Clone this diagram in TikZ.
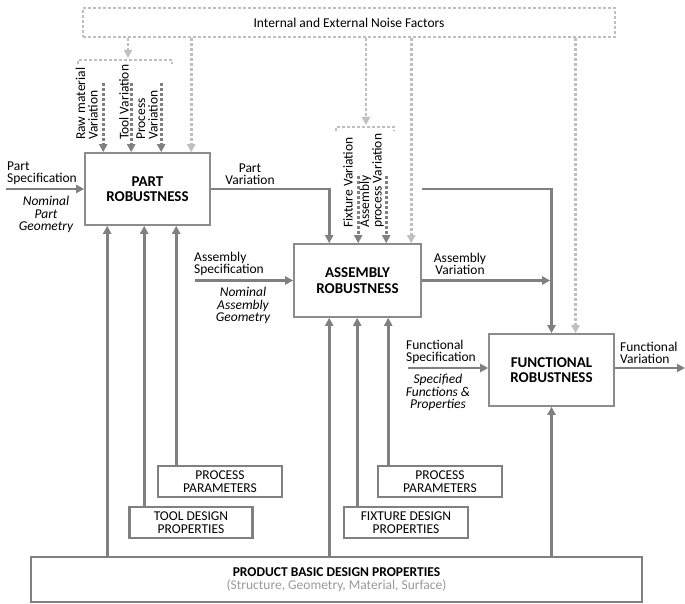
\documentclass[tikz,border=0pt]{standalone}
\usepackage{fontspec}
\setmainfont{Carlito}
\usetikzlibrary{arrows.meta}

\definecolor{flowgray}{HTML}{808080}
\definecolor{boxgray}{HTML}{8C8C8C}
\definecolor{noisegray}{HTML}{BFBFBF}
\definecolor{subgray}{HTML}{999999}

\tikzset{
  robust/.style={draw=boxgray, line width=1.6pt, fill=white, minimum width=125pt,
    minimum height=72pt, align=center, inner sep=0pt,
    font=\fontsize{15}{15.5}\selectfont\bfseries},
  propbox/.style={draw=flowgray, line width=2.6pt, minimum width=124pt,
    minimum height=31pt, align=center, inner sep=0pt,
    font=\fontsize{13.5}{12.5}\selectfont},
  flow/.style={draw=flowgray, line width=2.6pt, -{Triangle[length=8pt,width=8pt]}},
  varflow/.style={flow, dash pattern=on 2.6pt off 2.4pt},
  noiseline/.style={draw=noisegray, line width=2.6pt, dash pattern=on 2.6pt off 2.4pt},
  noiseflow/.style={noiseline, -{Triangle[length=8pt,width=8pt]}},
  lbl/.style={font=\fontsize{13.5}{12.5}\selectfont, inner sep=1pt, align=left},
  nominal/.style={lbl, font=\fontsize{13.5}{12.5}\selectfont\itshape, align=center},
  vlbl/.style={lbl, rotate=90, anchor=south west}
}

\begin{document}
\begin{tikzpicture}[x=1pt, y=-1pt]
  \useasboundingbox (0,0) rectangle (685,604);

  % the noise factors
  \node[noiseline, minimum width=532pt, minimum height=29pt, inner sep=0pt,
        font=\fontsize{13.5}{13}\selectfont] (noise) at (349,22.5)
        {Internal and External Noise Factors};

  % the three robustness boxes
  \node[robust] (part) at (147.5,189) {PART\\ROBUSTNESS};
  \node[robust, minimum width=127pt, minimum height=73pt] (asm) at (357.5,280.5)
        {ASSEMBLY\\ROBUSTNESS};
  \node[robust] (func) at (551.5,370) {FUNCTIONAL\\ROBUSTNESS};

  % the property boxes below
  \node[propbox] (pp1) at (220,481.5) {PROCESS\\PARAMETERS};
  \node[propbox, minimum width=123pt] (tool) at (191,522.5) {TOOL DESIGN\\PROPERTIES};
  \node[propbox] (pp2) at (440,481.5) {PROCESS\\PARAMETERS};
  \node[propbox] (fix) at (406,522.5) {FIXTURE DESIGN\\PROPERTIES};
  \node[propbox, minimum width=611pt, minimum height=45pt] (prod) at (336.5,579.5)
        {{\fontsize{13.5}{15}\selectfont\bfseries PRODUCT BASIC DESIGN PROPERTIES}\\
         \textcolor{subgray}{(Structure, Geometry, Material, Surface)}};

  % anchor points on the boxes
  \foreach \n/\dx in {1/23, 2/60, 3/92}{
    \coordinate (pb\n) at ([xshift=\dx pt]part.south west);
  }
  \foreach \n/\dx in {1/36, 2/64, 3/95}{
    \coordinate (ab\n) at ([xshift=\dx pt]asm.south west);
  }
  \coordinate (at1) at ([xshift=36pt]asm.north west);
  \coordinate (pn4) at ([xshift=107pt]part.north west);
  \coordinate (an4) at ([xshift=118pt]asm.north west);
  \coordinate (fn2) at ([xshift=24pt]func.north);
  \coordinate (brk1) at (128,60);
  \coordinate (brk2) at (366,127);
  \coordinate (pin) at (6,189);
  \coordinate (ain) at (195,280.5);
  \coordinate (fin) at (408,368);
  \coordinate (fout) at (685,368);

  % noise drops and brackets
  \draw[noiseline] (78,64) -- (78,60) -- (172,60) -- (172,64);
  \draw[noiseline] (336,131) -- (336,127) -- (394,127) -- (394,131);
  \draw[noiseflow, shorten >=2pt] (noise.south -| brk1) -- (brk1);
  \draw[noiseflow, shorten >=2pt] (noise.south -| brk2) -- (brk2);
  \draw[noiseflow] (noise.south -| pn4) -- (pn4);
  \draw[noiseflow] (noise.south -| an4) -- (an4);
  \draw[noiseflow] (noise.south -| fn2) -- (fn2);

  % variation sources
  \foreach \dx in {19, 47, 77}{
    \draw[varflow] ([xshift=\dx pt, yshift=69pt]part.north west)
      -- ([xshift=\dx pt]part.north west);
  }
  \foreach \dx in {65, 93}{
    \draw[varflow] ([xshift=\dx pt, yshift=67pt]asm.north west)
      -- ([xshift=\dx pt]asm.north west);
  }
  \node[vlbl] (rawlbl) at (99,141) {Raw material\\Variation};
  \node[vlbl] (toollbl) at (130,141) {Tool Variation};
  \node[vlbl] (proclbl) at (159,141) {Process\\Variation};
  \node[vlbl] (fixlbl) at (354,229) {Fixture Variation};
  \node[vlbl] (aproclbl) at (385,229) {Assembly\\process Variation};

  % main flow
  \draw[flow] (pin) -- (part.west);
  \draw[flow] (part.east) -| (at1);
  \draw[flow] (asm.north east |- part.east) -| (func.north);
  \draw[flow] (ain) -- (asm.west);
  \draw[flow, shorten >=1.3pt] (asm.east) -- (asm.east -| func.north);
  \draw[flow] (fin) -- (fin -| func.west);
  \draw[flow] (fout -| func.east) -- (fout);

  % properties feeding up
  \draw[flow] (prod.north -| pb1) -- (pb1);
  \draw[flow] (tool.north -| pb2) -- (pb2);
  \draw[flow] (pp1.north -| pb3) -- (pb3);
  \draw[flow] (prod.north -| ab1) -- (ab1);
  \draw[flow] (fix.north -| ab2) -- (ab2);
  \draw[flow] (pp2.north -| ab3) -- (ab3);
  \draw[flow] (prod.north -| func.south) -- (func.south);

  % labels on the flows
  \node[lbl, anchor=south west] (pspec) at (6,186) {Part\\Specification};
  \node[nominal, anchor=north] (pgeo) at (46,195) {Nominal\\Part\\Geometry};
  \node[lbl, align=center, anchor=south] (pvar) at (250,186) {Part\\Variation};
  \node[lbl, anchor=south west] (aspec) at (193,277) {Assembly\\Specification};
  \node[nominal, anchor=north] (ageo) at (243,286) {Nominal\\Assembly\\Geometry};
  \node[lbl, align=center, anchor=south] (avar) at (460,276) {Assembly\\Variation};
  \node[lbl, anchor=south west] (fspec) at (405,365) {Functional\\Specification};
  \node[nominal, anchor=north] (fprop) at (438,373) {Specified\\Functions \&\\Properties};
  \node[lbl, anchor=south west] (fvar) at (619,365) {Functional\\Variation};
\end{tikzpicture}
\end{document}
